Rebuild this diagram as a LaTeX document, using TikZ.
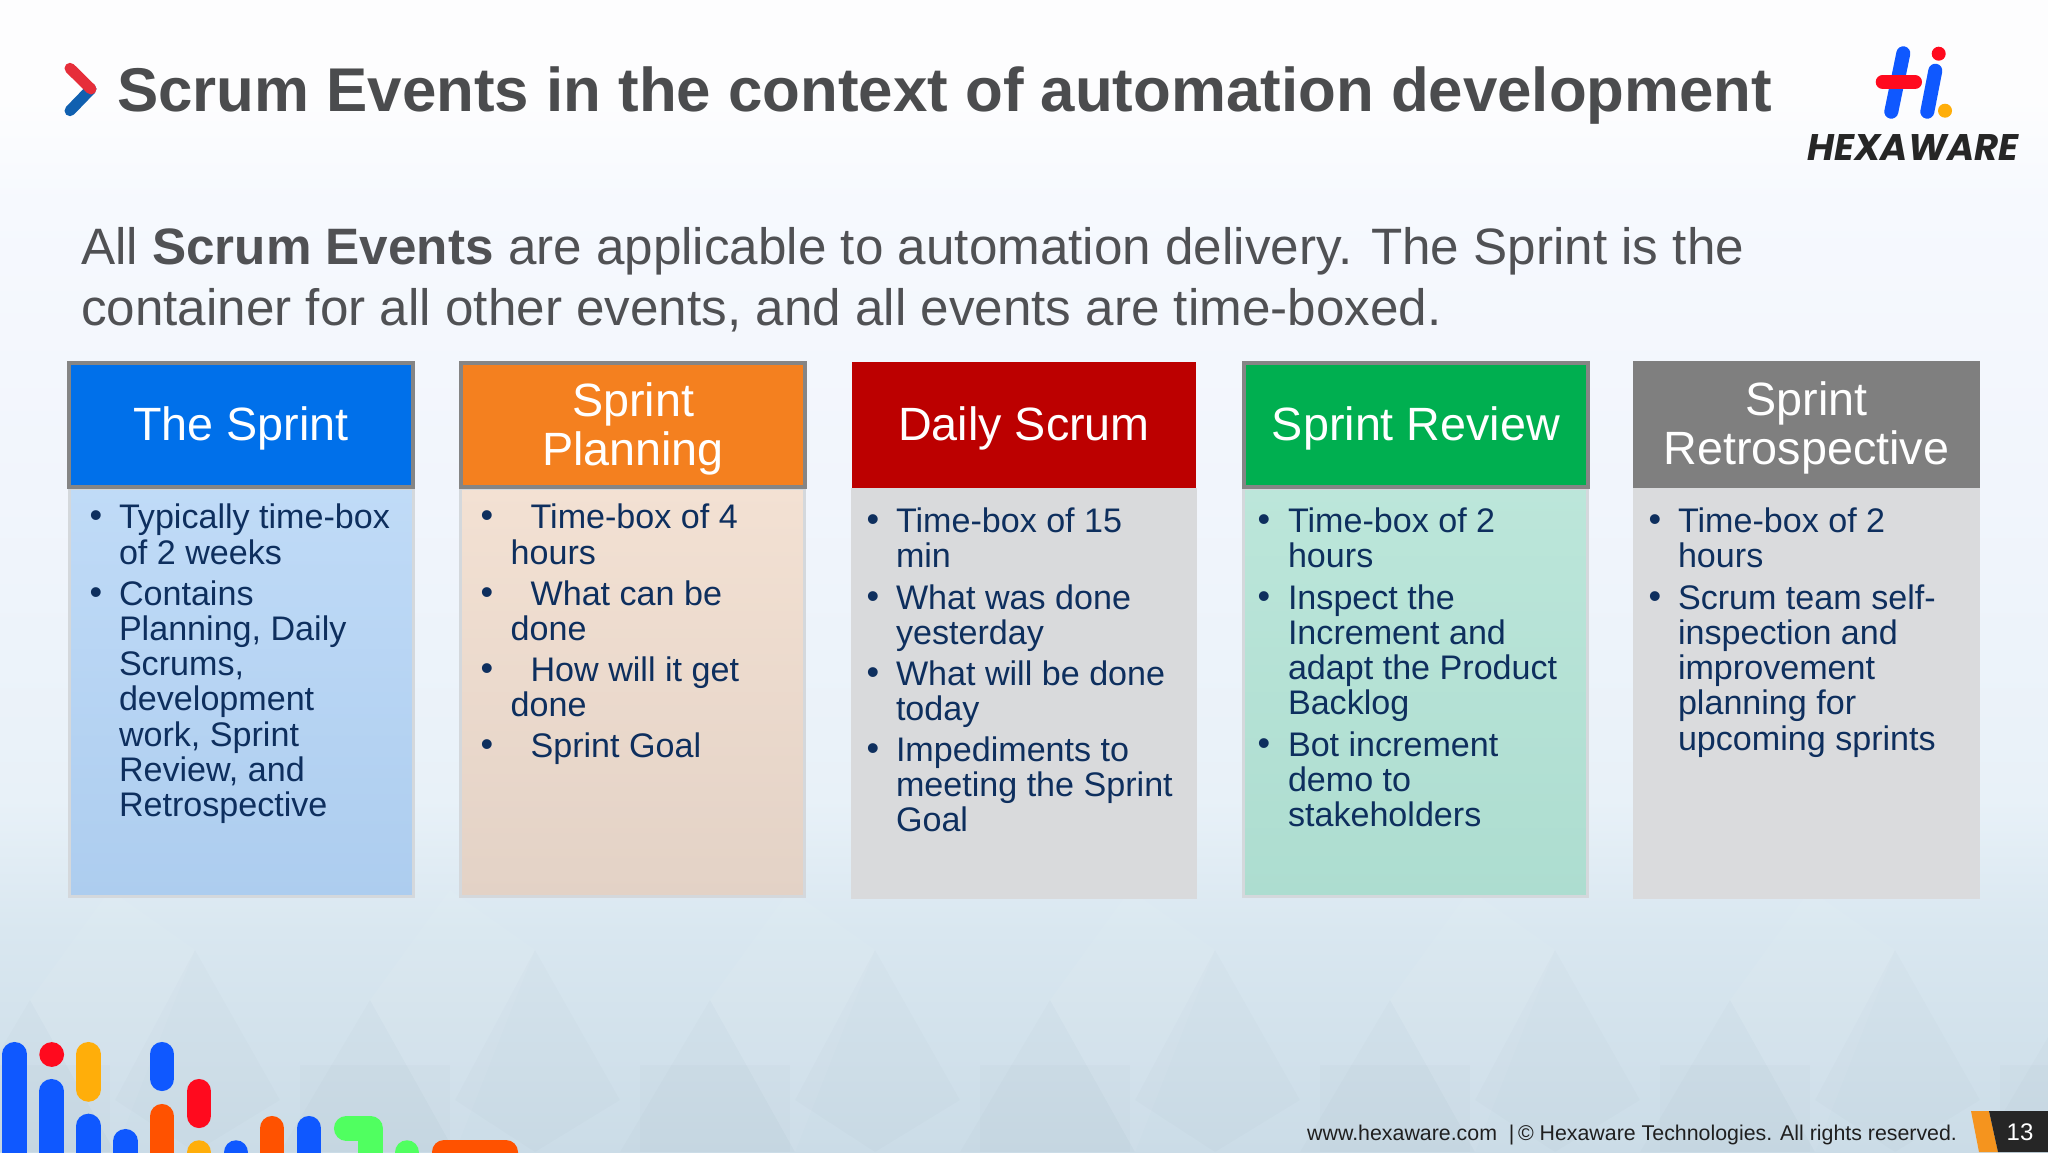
\documentclass[tikz,border=0pt]{standalone}
\usepackage{fontspec}
\setmainfont{Liberation Sans}
\newfontfamily\logofont{Poppins}
\definecolor{bgA}{HTML}{CBDCE7}\definecolor{bgB}{HTML}{D9E7F0}\definecolor{bgC}{HTML}{E8F1F8}
\definecolor{bgD}{HTML}{F1F5FC}\definecolor{bgE}{HTML}{F6F9FE}\definecolor{bgF}{HTML}{FDFDFE}
\definecolor{navy}{HTML}{0E2F5E}\definecolor{ink}{HTML}{4B4C4E}\definecolor{introink}{HTML}{505154}
\definecolor{hexblue}{HTML}{0F58FF}\definecolor{hexred}{HTML}{FF0A1E}\definecolor{hexyel}{HTML}{FFAE0A}
\definecolor{hexora}{HTML}{FF5200}\definecolor{hexgrn}{HTML}{50FF60}
\definecolor{hsprint}{HTML}{0070EA}\definecolor{hplan}{HTML}{F4801F}\definecolor{hdaily}{HTML}{BC0000}
\definecolor{hreview}{HTML}{00AF50}\definecolor{hretro}{HTML}{7F7F7F}
\definecolor{edgegrey}{HTML}{858585}\definecolor{bodyedge}{HTML}{D4D8DC}
\pgfdeclareverticalshading{slidebg}{100bp}{color(0bp)=(bgA);color(25bp)=(bgA);color(34.6bp)=(bgB);color(40.3bp)=(bgC);color(53.3bp)=(bgD);color(66.3bp)=(bgE);color(70.7bp)=(bgF);color(100bp)=(bgF)}
\tikzset{
 px/.style={x=1pt,y=-1pt},
 headbox/.style={anchor=north west,inner sep=0pt,outer sep=0pt,align=center,text=white,font=\fontsize{46.7}{49}\selectfont},
 bodybox/.style={anchor=north west,inner sep=0pt,outer sep=0pt,draw=bodyedge,line width=3pt},
 bodytext/.style={anchor=north west,inner sep=0pt,outer sep=0pt,align=left,text=navy,font=\fontsize{34.1}{35.3}\selectfont},
 bulletmark/.style={anchor=base,inner sep=0pt,outer sep=0pt,text=navy,font=\fontsize{36}{36}\selectfont},
 bar/.style={line width=24.7pt,line cap=round,line join=round},
 logobar/.style={line width=14pt,line cap=round},
 facet/.style={black,opacity=.010},
 glint/.style={white,opacity=.05},
}
\newcommand{\bl}[5]{%
 \node[bulletmark] (#1m) at (#2,#4) {•};
 \node[bodytext] (#1) at (#3,{#4-27}) {\rule{0pt}{28pt}#5};}
\newcommand{\headtxt}[1]{\raisebox{-6pt}[\height][\depth]{\begin{tabular}{@{}c@{}}#1\end{tabular}}}
\begin{document}
\begin{tikzpicture}[px]
\useasboundingbox (0,0) rectangle (2048,1152);
\clip (0,0) rectangle (2048,1152);
\shade[shading=slidebg] (0,0) rectangle (2048,1152);
% faint facets of the background
\foreach \x in {-60,280,620,960,1300,1640,1980}{
 \fill[facet] (\x,1152) -- ({\x+90},1000) -- ({\x+175},1152) -- cycle;
 \fill[facet] ({\x+175},1100) -- ({\x+255},950) -- ({\x+340},1100) -- ({\x+255},1152) -- cycle;
 \fill[glint] ({\x+90},1000) -- ({\x+175},1152) -- ({\x+255},950) -- ({\x+170},890) -- cycle;
 \fill[facet] ({\x+20},1065) rectangle ({\x+170},1152);
}
% chevron
\draw[line width=11pt,line cap=round,color={rgb,255:red,16;green,96;blue,176}] (91,89) -- (70,110.7);
\draw[line width=11pt,line cap=round,color={rgb,255:red,230;green,46;blue,58}] (70,68.3) -- (91,89);
% title
\node[anchor=base west,inner sep=0pt,text=ink,font=\fontsize{61.8}{62}\selectfont\bfseries] (title) at (117,111) {Scrum Events in the context of automation development};
% logo
\draw[logobar,hexblue] (1903.3,53.3) -- (1891.3,111.7);
\draw[logobar,hexred] (1882.7,82) -- (1915,82);
\draw[logobar,hexblue] (1935.3,70.7) -- (1927.3,111.7);
\fill[hexred] (1938.7,53.7) circle (7);
\fill[hexyel] (1945,110.7) circle (7);
\node[anchor=base,inner sep=0pt,text=black!85,font=\logofont\fontsize{37}{37}\selectfont\bfseries\itshape] (logo) at (1913,160) {HEXAWARE};
% intro
\node[anchor=base west,inner sep=0pt,text=introink,font=\fontsize{51.2}{51}\selectfont] (introa) at (81,264.6) {All \textbf{Scrum Events} are applicable to automation delivery. The Sprint is the};
\node[anchor=base west,inner sep=0pt,text=introink,font=\fontsize{51.2}{51}\selectfont] (introb) at (81,325.6) {container for all other events, and all events are time-boxed.};
% bodies
\node[bodybox,minimum width=344pt,minimum height=408pt,top color={rgb,255:red,192;green,219;blue,247},bottom color={rgb,255:red,173;green,205;blue,239}] (b1) at (69,488) {};
\node[bodybox,minimum width=344pt,minimum height=408pt,top color={rgb,255:red,243;green,225;blue,211},bottom color={rgb,255:red,227;green,210;blue,198}] (b2) at (460.5,488) {};
\node[bodybox,draw=none,minimum width=346pt,minimum height=411pt,fill={rgb,255:red,217;green,218;blue,220}] (b3) at (851,488) {};
\node[bodybox,minimum width=344pt,minimum height=408pt,top color={rgb,255:red,188;green,230;blue,218},bottom color={rgb,255:red,173;green,221;blue,208}] (b4) at (1243.5,488) {};
\node[bodybox,draw=none,minimum width=347pt,minimum height=411pt,fill={rgb,255:red,218;green,219;blue,221}] (b5) at (1633,488) {};
% headers
\node[headbox,minimum width=344pt,minimum height=124pt,fill=hsprint,draw=edgegrey,line width=3.5pt] (h1) at (69,363) {\headtxt{The Sprint}};
\node[headbox,minimum width=344pt,minimum height=124pt,fill=hplan,draw=edgegrey,line width=3.5pt] (h2) at (461,363) {\headtxt{Sprint\\Planning}};
\node[headbox,minimum width=344pt,minimum height=126pt,fill=hdaily] (h3) at (852,362) {\headtxt{Daily Scrum}};
\node[headbox,minimum width=344pt,minimum height=124pt,fill=hreview,draw=edgegrey,line width=3.5pt] (h4) at (1244,363) {\headtxt{Sprint Review}};
\node[headbox,minimum width=347pt,minimum height=127pt,fill=hretro] (h5) at (1633,361) {\headtxt{Sprint\\Retrospective}};
% column 1
\bl{a}{96}{119}{527.7}{Typically time-box\\of 2 weeks}
\bl{b}{96}{119}{604}{Contains\\Planning, Daily\\Scrums,\\development\\work, Sprint\\Review, and\\Retrospective}
% column 2
\bl{c}{487}{510.7}{527.7}{\hspace*{19.9pt}Time-box of 4\\hours}
\bl{d}{487}{510.7}{604}{\hspace*{19.9pt}What can be\\done}
\bl{e}{487}{510.7}{680.5}{\hspace*{19.9pt}How will it get\\done}
\bl{f}{487}{510.7}{756}{\hspace*{19.9pt}Sprint Goal}
% column 3
\bl{g}{873}{896}{531}{Time-box of 15\\min}
\bl{h}{873}{896}{608}{What was done\\yesterday}
\bl{i}{873}{896}{684}{What will be done\\today}
\bl{j}{873}{896}{760}{Impediments to\\meeting the Sprint\\Goal}
% column 4
\bl{k}{1264}{1288}{531}{Time-box of 2\\hours}
\bl{l}{1264}{1288}{608}{Inspect the\\Increment and\\adapt the Product\\Backlog}
\bl{m}{1264}{1288}{755}{Bot increment\\demo to\\stakeholders}
% column 5
\bl{n}{1655}{1678}{531}{Time-box of 2\\hours}
\bl{o}{1655}{1678}{608}{Scrum team self-\\inspection and\\improvement\\planning for\\upcoming sprints}
% bottom-left bars
\draw[bar,hexblue] (14.7,1054.3) -- (14.7,1200);
\fill[hexred] (51.7,1054.5) circle (12.4);
\draw[bar,hexblue] (51.7,1091.3) -- (51.7,1200);
\draw[bar,hexyel] (88.3,1054.3) -- (88.3,1089.4);
\draw[bar,hexblue] (88.3,1126) -- (88.3,1200);
\draw[bar,hexblue] (125.2,1141.3) -- (125.2,1200);
\draw[bar,hexblue] (162,1054.3) -- (162,1078.7);
\draw[bar,hexora] (162,1116.3) -- (162,1200);
\draw[bar,hexred] (199.1,1091.3) -- (199.1,1115.7);
\draw[bar,hexyel] (199.1,1152.6) -- (199.1,1200);
\draw[bar,hexblue] (236,1152.6) -- (236,1200);
\draw[bar,hexora] (272.1,1128.3) -- (272.1,1200);
\draw[bar,hexblue] (309.1,1128.3) -- (309.1,1200);
\draw[bar,hexgrn] (346.3,1128.3) -- (370.6,1128.3) -- (370.6,1200);
\draw[bar,hexgrn] (407,1152.6) -- (407,1200);
\fill[hexora,rounded corners=12pt] (432,1200) -- (432,1140) -- (518,1140) -- (518,1200) -- cycle;
% footer
\node[anchor=base west,inner sep=0pt,text=black!88,font=\fontsize{21.35}{22}\selectfont] (foot) at (1307,1140.7) {www.hexaware.com~~|\,© Hexaware Technologies. All rights reserved.};
\fill[color={rgb,255:red,245;green,148;blue,30}] (1971,1111) -- (1989,1111) -- (1998,1152) -- (1979,1152) -- cycle;
\fill[black!85] (1989,1111) -- (2048,1111) -- (2048,1152) -- (1998,1152) -- cycle;
\node[anchor=base,inner sep=0pt,text=white,font=\fontsize{24}{24}\selectfont] (page) at (2020,1140) {13};
\end{tikzpicture}
\end{document}
